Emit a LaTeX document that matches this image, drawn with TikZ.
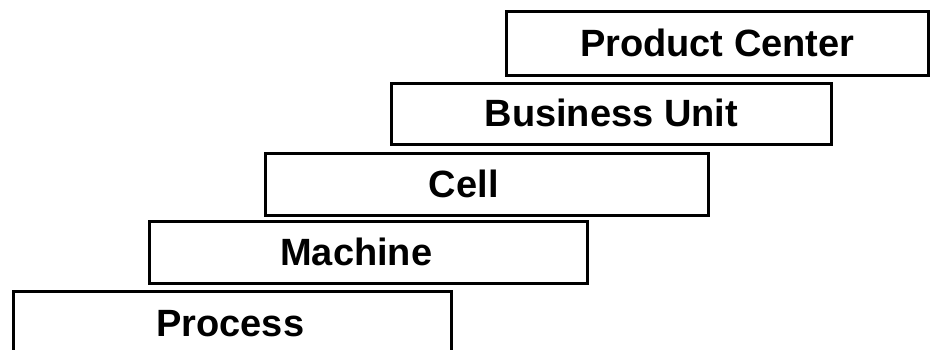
\documentclass[tikz,border=0pt]{standalone}
\usepackage{fontspec}
\setmainfont{Liberation Sans}
\begin{document}
\begin{tikzpicture}[x=1pt,y=-1pt,
  levelbox/.style={draw=black,line width=2.6pt,inner sep=0pt,anchor=north west},
  leveltext/.style={font=\fontsize{38}{40}\selectfont\bfseries,anchor=base,inner sep=0pt}]
\useasboundingbox (0,0) rectangle (930,350);
\clip (0,0) rectangle (930,350);
\node[levelbox,minimum width=422pt,minimum height=64pt] (pc) at (505,10) {};
\node[levelbox,minimum width=440pt,minimum height=61pt] (bu) at (390,82) {};
\node[levelbox,minimum width=443pt,minimum height=62pt] (cell) at (264,152) {};
\node[levelbox,minimum width=438pt,minimum height=62pt] (mach) at (148,220) {};
\node[levelbox,minimum width=438pt,minimum height=64pt] (proc) at (12,290) {};
\node[leveltext] (tpc) at ([yshift=-13pt]pc.center) {Product Center};
\node[leveltext] (tbu) at ([yshift=-13pt]bu.center) {Business Unit};
\node[leveltext] (tcell) at ([xshift=-23pt,yshift=-13pt]cell.center) {Cell};
\node[leveltext] (tmach) at ([xshift=-12pt,yshift=-13pt]mach.center) {Machine};
\node[leveltext] (tproc) at ([yshift=-13pt,xshift=-2pt]proc.center) {Process};
\end{tikzpicture}
\end{document}
